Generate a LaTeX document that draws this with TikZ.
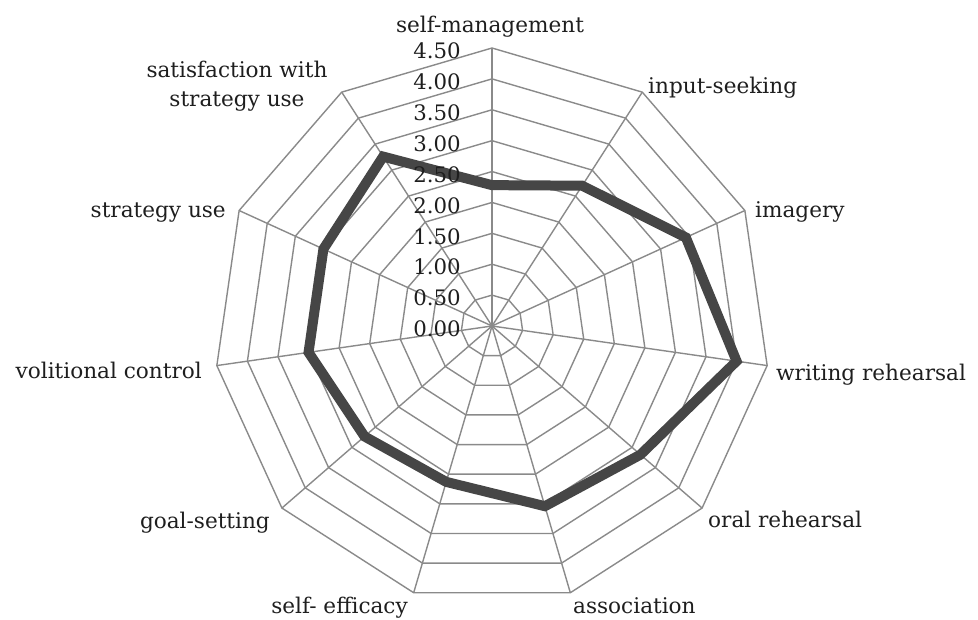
\documentclass[tikz,border=0pt]{standalone}
\usepackage{fontspec}
\setmainfont{DejaVu Serif}
\definecolor{gridgray}{HTML}{8A8A8A}
\definecolor{datagray}{HTML}{464646}
\definecolor{txt}{HTML}{1E1E1E}
\tikzset{
  gridline/.style={draw=gridgray, line width=1.4pt},
  dataline/.style={draw=datagray, line width=10pt, line join=miter},
  axlabel/.style={font=\fontsize{21.6}{29}\selectfont, text=txt, inner sep=0pt},
  ticklabel/.style={font=\fontsize{21.3}{29}\selectfont, text=txt, inner sep=0pt, anchor=east}
}
\begin{document}
\begin{tikzpicture}[x=1pt,y=-1pt]
\useasboundingbox (0,0) rectangle (978,619);
\coordinate (c) at (492,326);
\begin{scope}[shift={(c)}]
  % rings
  \foreach \i in {1,...,9}{
    \draw[gridline] ({-90}:{\i*30.889})
      \foreach \k in {1,...,10}{ -- ({-90+\k*32.72727}:{\i*30.889}) } -- cycle;
  }
  % spokes
  \foreach \k in {0,...,10}{
    \coordinate (ax\k) at ({-90+\k*32.72727}:278);
    \draw[gridline] (0,0) -- (ax\k);
  }
  % data
  \foreach \v [count=\k from 0] in {2.28,2.70,3.45,4.00,3.18,3.04,2.63,2.73,3.00,3.00,3.26}{
    \coordinate (d\k) at ({-90+\k*32.72727}:{\v*61.778});
  }
  \draw[dataline] (d0) -- (d1) -- (d2) -- (d3) -- (d4) -- (d5) -- (d6) -- (d7) -- (d8) -- (d9) -- (d10) -- cycle;
\end{scope}
% tick labels
\foreach \t [count=\i from 0] in {0.00,0.50,1.00,1.50,2.00,2.50,3.00,3.50,4.00,4.50}{
  \node[ticklabel] (t\i) at (461,{326-\i*30.889+3}) {\t};
}
% axis labels
\node[axlabel, anchor=base] (l0) at (490,32) {self-management};
\node[axlabel, anchor=base west] (l1) at (648,93) {input-seeking};
\node[axlabel, anchor=base west] (l2) at (755,217) {imagery};
\node[axlabel, anchor=base west] (l3) at (776,380) {writing rehearsal};
\node[axlabel, anchor=base west] (l4) at (708,527) {oral rehearsal};
\node[axlabel, anchor=base west] (l5) at (573,613) {association};
\node[axlabel, anchor=base east] (l6) at (408,613) {self- efficacy};
\node[axlabel, anchor=base east] (l7) at (270,528) {goal-setting};
\node[axlabel, anchor=base east] (l8) at (202,378) {volitional control};
\node[axlabel, anchor=base east] (l9) at (226,217) {strategy use};
\node[axlabel, align=center] (l10) at (237,86.5) {satisfaction with\\strategy use};
\end{tikzpicture}
\end{document}
